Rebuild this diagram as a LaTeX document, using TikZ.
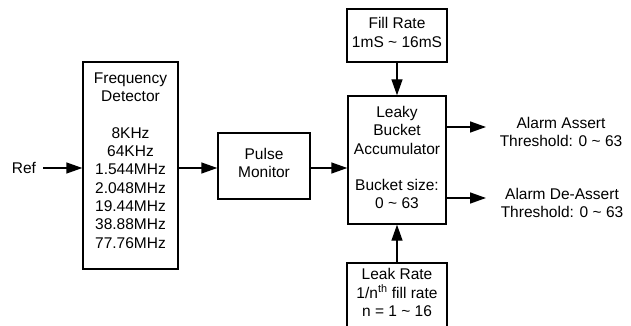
\documentclass[tikz,border=0pt]{standalone}
\usepackage{fontspec}
\setmainfont{Liberation Sans}
\usetikzlibrary{arrows.meta}
\begin{document}
\begin{tikzpicture}[x=1pt,y=-1pt,
  box/.style={draw,line width=1.4pt,rectangle,inner sep=0pt},
  txt/.style={align=center,inner sep=0pt,font=\fontsize{15.5}{18.3}\selectfont},
  arr/.style={line width=1.4pt,-{Triangle[length=16pt,width=11pt]}}]
\useasboundingbox (0,0) rectangle (631,326);
\clip (0,0) rectangle (631,326);
% boxes
\node[box,minimum width=95pt,minimum height=207pt] (fd) at (130.5,165.5) {};
\node[box,minimum width=92pt,minimum height=66pt] (pm) at (264,166) {};
\node[box,minimum width=98pt,minimum height=128pt] (lba) at (397,160) {};
\node[box,minimum width=100pt,minimum height=53pt] (fill) at (397,35.5) {};
\node[box,minimum width=100pt,minimum height=80pt] (leak) at (397,303) {};
% texts
\node[txt] (fdt) at (130.5,160.5) {Frequency\\Detector\\[18.3pt]8KHz\\64KHz\\1.544MHz\\2.048MHz\\19.44MHz\\38.88MHz\\77.76MHz};
\node[txt] (ref) at (24,168) {Ref};
\node[txt] (pmt) at (264,163) {Pulse\\Monitor};
\node[txt] (lbat) at (397,157.5) {Leaky\\Bucket\\Accumulator\\[17.8pt]Bucket size:\\0 \textasciitilde{} 63};
\node[txt] (fillt) at (397,32.5) {Fill Rate\\1mS \textasciitilde{} 16mS};
\node[txt] (leakt) at (397,292.5) {Leak Rate\\1/n\textsuperscript{th} fill rate\\n = 1 \textasciitilde{} 16};
\node[txt] (a1) at (561,132) {Alarm Assert\\Threshold: 0 \textasciitilde{} 63};
\node[txt] (a2) at (562,203) {Alarm De-Assert\\Threshold: 0 \textasciitilde{} 63};
% connectors
\coordinate (refe) at (43,168);
\coordinate (a1s) at (486,127);
\coordinate (a2s) at (486,198);
\draw[arr] (refe) -- (refe -| fd.west);
\draw[arr] (fd.east |- 0,168) -- (pm.west |- 0,168);
\draw[arr] (pm.east |- 0,168) -- (lba.west |- 0,168);
\draw[arr] (fill.south) -- (lba.north);
\draw[arr] (leak.north) -- (lba.south);
\draw[arr] (lba.east |- a1s) -- (a1s);
\draw[arr] (lba.east |- a2s) -- (a2s);
\end{tikzpicture}
\end{document}
